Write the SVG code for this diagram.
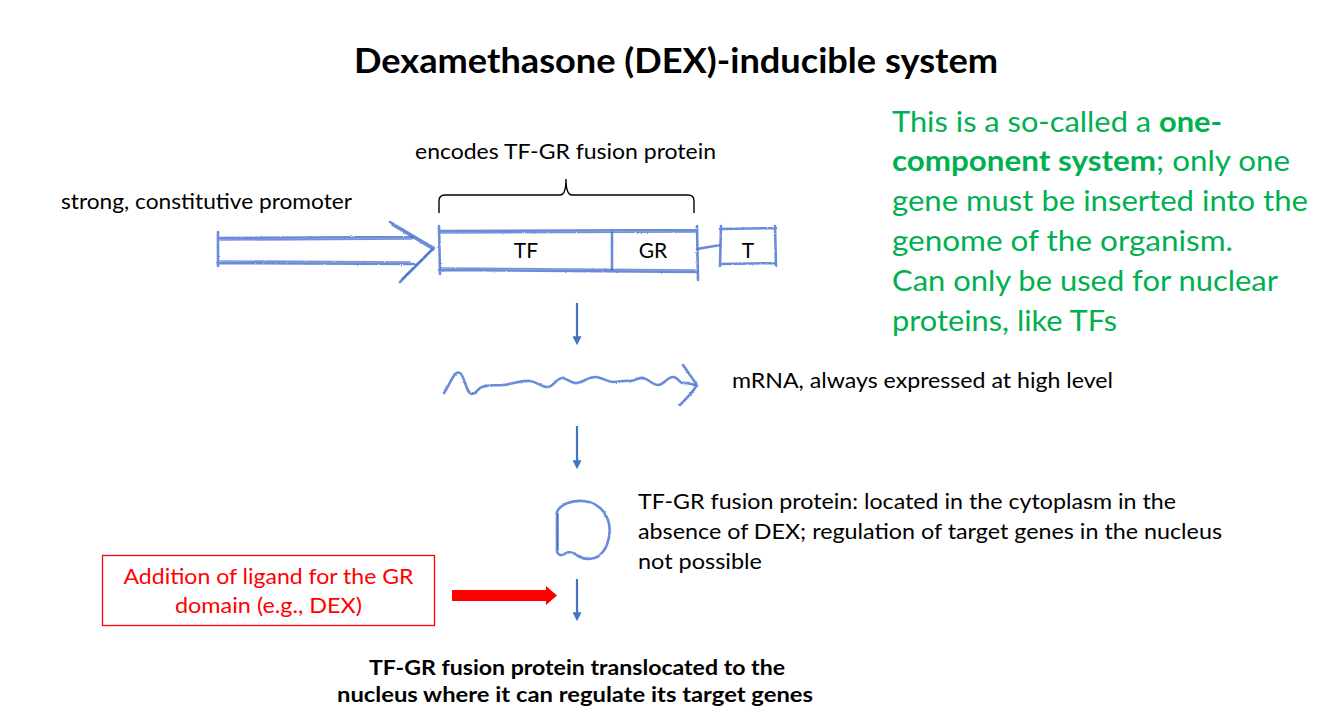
<svg xmlns="http://www.w3.org/2000/svg" width="1322" height="716" viewBox="0 0 1322 716">
<style>
text{font-family:Lato,"Liberation Sans",sans-serif;fill:#000}
.t20{font-size:21px}
.bold{font-weight:bold}
.green{fill:#00b050;font-size:29px}
.red{fill:#ff0000;font-size:21px}
.sk{fill:none;stroke:#5a7fd6;stroke-width:2.6;stroke-linecap:round;stroke-linejoin:round;opacity:0.9}
.skd{fill:none;stroke:#3f63c4;stroke-width:1.6;stroke-linecap:round;opacity:0.7}
.brace{fill:none;stroke:#000;stroke-width:1.4}
.down{stroke:#4472c4;stroke-width:2.2;fill:none}
</style>
<defs>
<filter id="pencil" x="-5%" y="-20%" width="110%" height="140%">
<feTurbulence type="fractalNoise" baseFrequency="0.9" numOctaves="2" seed="3" result="n"/>
<feDisplacementMap in="SourceGraphic" in2="n" scale="2" xChannelSelector="R" yChannelSelector="G"/>
</filter>
<marker id="ah" viewBox="0 0 10 10" refX="2" refY="5" markerWidth="9" markerHeight="9" markerUnits="userSpaceOnUse" orient="auto">
<path d="M0,0 L10,5 L0,10 Z" fill="#4472c4"/>
</marker>
</defs>

<g id="title"><text x="354" y="73" class="bold" font-size="35" textLength="644" lengthAdjust="spacingAndGlyphs">Dexamethasone (DEX)-inducible system</text></g>

<g id="note">
<text class="green" x="892" y="132" textLength="330" lengthAdjust="spacingAndGlyphs">This is a so-called a <tspan font-weight="bold">one-</tspan></text>
<text class="green" x="892" y="171" textLength="398" lengthAdjust="spacingAndGlyphs"><tspan font-weight="bold">component system</tspan>; only one</text>
<text class="green" x="892" y="211" textLength="416" lengthAdjust="spacingAndGlyphs">gene must be inserted into the</text>
<text class="green" x="892" y="251" textLength="341" lengthAdjust="spacingAndGlyphs">genome of the organism.</text>
<text class="green" x="892" y="291" textLength="386" lengthAdjust="spacingAndGlyphs">Can only be used for nuclear</text>
<text class="green" x="892" y="331" textLength="225" lengthAdjust="spacingAndGlyphs">proteins, like TFs</text>
</g>

<g id="promoter-label"><text class="t20" x="61" y="209" textLength="291" lengthAdjust="spacingAndGlyphs">strong, constitutive promoter</text></g>

<g id="encodes-label">
<text class="t20" x="415" y="159" textLength="301" lengthAdjust="spacingAndGlyphs">encodes TF-GR fusion protein</text>
<path class="brace" d="M439,213 L439,201 Q439,195 445,195 L560,195 Q566,195 566,179 Q566,195 572,195 L688,195 Q694,195 694,201 L694,213"/>
</g>

<g id="promoter">
<g filter="url(#pencil)">
<path class="sk" d="M218,238 L414,237 M218,263 L414,264 M218,232 L218,266 M390,222 L434,248 L400,282"/>
<path class="skd" d="M220,240 L412,239 M220,261 L410,262 M392,225 L432,249 M432,249 L402,279"/>
</g>
</g>

<g id="gene">
<g filter="url(#pencil)">
<path class="sk" d="M439,231 L697,230 M439,270 L697,272 M439,226 L440,274 M612,230 L612,271 M697,226 L698,280"/>
<path class="skd" d="M441,233 L695,232 M441,268 L695,270"/>
</g>
<text class="t20" x="526" y="258" text-anchor="middle">TF</text>
<text class="t20" x="653" y="258" text-anchor="middle">GR</text>
</g>

<g id="linker"><path class="sk" d="M697,249 L720,245" stroke-width="3" filter="url(#pencil)"/></g>

<g id="terminator">
<g filter="url(#pencil)">
<path class="sk" d="M720,229 L776,228 M720,264 L776,263 M721,226 L720,266 M775,226 L776,266"/>
</g>
<text class="t20" x="748" y="258" text-anchor="middle">T</text>
</g>

<g id="mrna">
<g filter="url(#pencil)">
<path class="sk" d="M444,393 C452,380 455,370 460,373 C465,376 466,394 472,394 C476,394 478,388 482,387 C490,384 496,386 503,385 C512,384 522,380 530,381 C538,382 542,388 548,387 C554,386 557,378 562,378 C567,378 571,384 577,383 C584,382 588,377 595,377 C602,377 607,382 613,382 C620,382 624,380 630,381 C636,381 639,377 643,378 C649,379 652,385 658,385 C664,385 667,377 673,377 C678,377 680,384 683,383 C688,382 692,385 697,385"/>
<path class="sk" d="M683,365 C688,372 692,378 697,385 C693,392 686,399 680,405"/>
</g>
</g>
<g id="mrna-label"><text class="t20" x="732" y="388" textLength="381" lengthAdjust="spacingAndGlyphs">mRNA, always expressed at high level</text></g>

<g id="protein">
<g filter="url(#pencil)">
<path class="sk" d="M557,552 L557,512 C560,505 570,500 583,501 C596,502 604,510 608,520 C612,532 608,548 600,555 C594,560 585,560 578,556 C574,553 570,551 566,553 C562,556 559,556 557,552 Z"/>
<path class="skd" d="M558,514 L558,550"/>
</g>
</g>
<g id="protein-label">
<text class="t20" x="638" y="509" textLength="538" lengthAdjust="spacingAndGlyphs">TF-GR fusion protein: located in the cytoplasm in the</text>
<text class="t20" x="638" y="539" textLength="584" lengthAdjust="spacingAndGlyphs">absence of DEX; regulation of target genes in the nucleus</text>
<text class="t20" x="638" y="569" textLength="124" lengthAdjust="spacingAndGlyphs">not possible</text>
</g>

<g id="ligand">
<rect x="102.5" y="555.5" width="332" height="70" fill="#fff" stroke="#ff0000" stroke-width="1.3"/>
<text class="red" x="268.5" y="584" text-anchor="middle" textLength="290" lengthAdjust="spacingAndGlyphs">Addition of ligand for the GR</text>
<text class="red" x="268.5" y="613" text-anchor="middle" textLength="187" lengthAdjust="spacingAndGlyphs">domain (e.g., DEX)</text>
</g>

<g id="result">
<text class="t20 bold" x="577" y="675" text-anchor="middle" textLength="416" lengthAdjust="spacingAndGlyphs">TF-GR fusion protein translocated to the</text>
<text class="t20 bold" x="575" y="702" text-anchor="middle" textLength="476" lengthAdjust="spacingAndGlyphs">nucleus where it can regulate its target genes</text>
</g>

<g id="connectors">
<line class="down" x1="577" y1="303" x2="577" y2="338" marker-end="url(#ah)"/>
<line class="down" x1="577" y1="426" x2="577" y2="462" marker-end="url(#ah)"/>
<line class="down" x1="577" y1="579" x2="577" y2="614" marker-end="url(#ah)"/>
<path d="M452,590 L546,590 L546,586 L557,595.5 L546,605 L546,601 L452,601 Z" fill="#ff0000"/>
</g>
</svg>
